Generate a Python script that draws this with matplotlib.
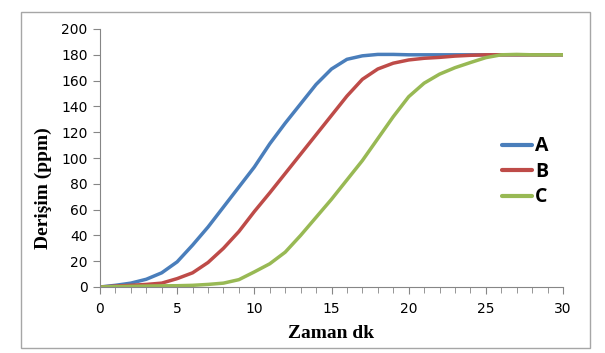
import matplotlib.pyplot as plt
from matplotlib.patches import Rectangle
from matplotlib.ticker import MultipleLocator

# zaman (dk)
t = list(range(0, 31))

# derişim (ppm)
a = [0, 1.3, 3, 6, 11, 19.5, 32.5, 46.5, 62, 77.5, 93, 111, 127, 142, 157, 169, 176.5, 179.2, 180.3, 180.3,
     180, 180, 180, 180, 180, 180, 180, 180, 180, 180, 180]
b = [0, 0.7, 1.3, 2, 3, 6.5, 11, 19, 30, 43, 58.5, 73, 88, 103, 118, 133, 148, 161, 169, 173.5,
     176, 177.3, 178, 179, 179.6, 180, 180, 180, 180, 180, 180]
c = [0, 0.3, 0.5, 0.7, 0.9, 1, 1.3, 2, 3, 5.7, 11.7, 18, 27, 40, 54, 68, 83, 98, 115, 132,
     147.5, 158, 165, 170, 174, 177.8, 180, 180.3, 180, 180, 180]

series = {'A': a, 'B': b, 'C': c}
colors = {'A': '#4A7EBB', 'B': '#BE4B48', 'C': '#98B954'}

fig = plt.figure(figsize=(6.05, 3.53), dpi=100)
# dış çerçeve
fig.patches.append(Rectangle((21/605, 1-348/353), 569/605, 336/353, transform=fig.transFigure,
                             fill=False, edgecolor='#A6A6A6', linewidth=1))
ax = fig.add_axes([100/605, 1-287/353, 463/605, 258/353])

for k in series:
    ax.plot(t, series[k], color=colors[k], linewidth=2.5, label=k,
            solid_capstyle='round', solid_joinstyle='round')

ax.set_xlim(0, 30)
ax.set_ylim(0, 200)
ax.xaxis.set_major_locator(MultipleLocator(5))
ax.xaxis.set_minor_locator(MultipleLocator(1))
ax.yaxis.set_major_locator(MultipleLocator(20))
for s in ['top', 'right']:
    ax.spines[s].set_visible(False)
for s in ['left', 'bottom']:
    ax.spines[s].set_color('#868686')
ax.tick_params(which='major', direction='out', length=5, color='#868686', labelsize=10, pad=6)
ax.tick_params(which='minor', direction='out', length=4, color='#868686')
ax.tick_params(axis='y', pad=4)

ax.set_xlabel('Zaman dk', family='Liberation Serif', fontweight='bold', fontsize=14, labelpad=6)
ax.set_ylabel('Derişim (ppm)', family='Liberation Serif', fontweight='bold', fontsize=14)
ax.yaxis.set_label_coords(-0.104, 0.384)

leg = ax.legend(loc='center left', bbox_to_anchor=(0.852, 0.446), borderaxespad=0, frameon=False,
                handlelength=1.55, handletextpad=0.15, labelspacing=0.28,
                prop={'family': 'Open Sans', 'weight': 'bold', 'size': 14})
for h in leg.legend_handles:
    h.set_linewidth(3)

fig.savefig('out.png')
